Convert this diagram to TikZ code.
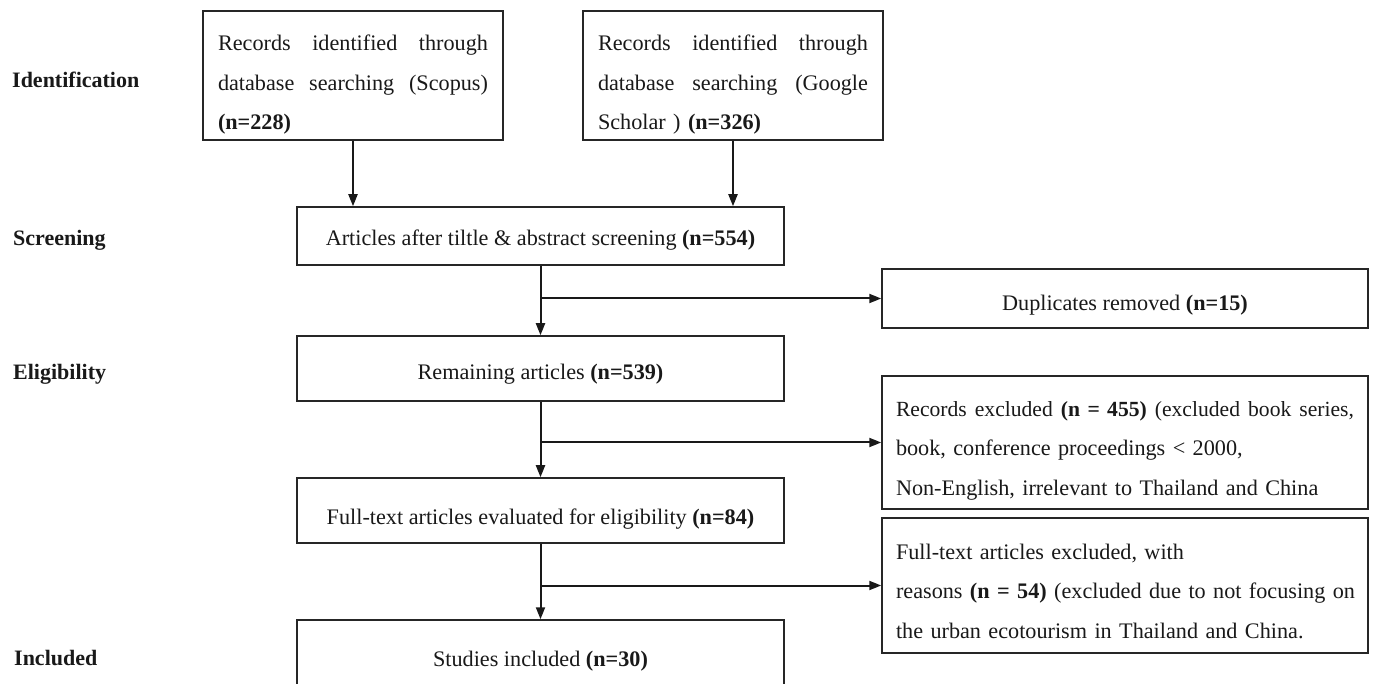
\documentclass[tikz,border=0pt]{standalone}
\usepackage{fontspec}
\setmainfont{Liberation Serif}
\usetikzlibrary{arrows.meta}
\newcommand\dn[1]{\rule{0pt}{#1}}
\newcommand\jl[2]{\makebox[#1][s]{#2}}
\begin{document}
\begin{tikzpicture}[x=1pt,y=-1pt,
  box/.style={draw=black!85, line width=1.5pt, inner sep=0pt, text=black!90,
    font=\fontsize{22.2}{39.5}\selectfont},
  lab/.style={anchor=west, inner sep=0pt, text=black!90,
    font=\fontsize{22}{26}\selectfont\bfseries},
  conn/.style={draw=black!90, line width=2pt, -{Triangle[length=12pt,width=9pt]}}]
\clip (0,0) rectangle (1374,684);
\fill[white] (0,0) rectangle (1374,684);
% stage labels
\node[lab] (lid) at (12,80) {Identification};
\node[lab] (lsc) at (13,240) {Screening};
\node[lab] (lel) at (13,374) {Eligibility};
\node[lab] (lin) at (14,658) {Included};
% boxes
\node[box, minimum width=300pt, minimum height=129pt, text width=270pt, align=left]
  (scopus) at (353,75.5)
  {\dn{34pt}\jl{270pt}{Records \hfill identified \hfill through}\\
   \jl{270pt}{database \hfill searching \hfill (Scopus)}\\
   \textbf{(n=228)}};
\node[box, minimum width=300pt, minimum height=129pt, text width=270pt, align=left]
  (scholar) at (733,75.5)
  {\dn{34pt}\jl{270pt}{Records \hfill identified \hfill through}\\
   \jl{270pt}{database \hfill searching \hfill (Google}\\
   Scholar ) \textbf{(n=326)}};
\node[box, minimum width=487pt, minimum height=58pt] (screen) at (540.5,236)
  {\dn{23pt}Articles after tiltle \& abstract screening \textbf{(n=554)}};
\node[box, minimum width=487pt, minimum height=65pt] (remain) at (540.5,368.5)
  {\dn{27pt}Remaining articles \textbf{(n=539)}};
\node[box, minimum width=487pt, minimum height=65pt] (fulltext) at (540.5,510.5)
  {\dn{33pt}Full-text articles evaluated for eligibility \textbf{(n=84)}};
\node[box, minimum width=487pt, minimum height=76pt] (studies) at (540.5,658)
  {\dn{21pt}Studies included \textbf{(n=30)}};
\node[box, minimum width=486pt, minimum height=59pt] (dup) at (1125,298.5)
  {\dn{29pt}Duplicates removed \textbf{(n=15)}};
\node[box, minimum width=486pt, minimum height=133pt, text width=458pt, align=left]
  (recexc) at (1125,442.5)
  {\dn{31pt}\jl{458pt}{\fontsize{21.6}{39.5}\selectfont Records \hfill excluded \hfill \textbf{(n = 455)} \hfill (excluded \hfill book \hfill series,}\\
   book, conference proceedings < 2000,\\
   Non-English, irrelevant to Thailand and China};
\node[box, minimum width=486pt, minimum height=135pt, text width=458pt, align=left]
  (ftexc) at (1125,585.5)
  {\dn{27pt}Full-text articles excluded, with\\
   \jl{458pt}{reasons \hfill \textbf{(n = 54)} \hfill (excluded \hfill due \hfill to \hfill not \hfill focusing \hfill on}\\
   the urban ecotourism in Thailand and China.};
% connectors
\draw[conn] (scopus.south) -- (scopus.south |- screen.north);
\draw[conn] (scholar.south) -- (scholar.south |- screen.north);
\draw[conn] (screen.south) -- (remain.north);
\coordinate (b1) at (screen.south |- dup.west);
\draw[conn] (b1) -- (dup.west);
\draw[conn] (remain.south) -- (fulltext.north);
\coordinate (b2) at (remain.south |- recexc.west);
\draw[conn] (b2) -- (recexc.west);
\draw[conn] (fulltext.south) -- (studies.north);
\coordinate (b3) at (fulltext.south |- ftexc.west);
\draw[conn] (b3) -- (ftexc.west);
\end{tikzpicture}
\end{document}
